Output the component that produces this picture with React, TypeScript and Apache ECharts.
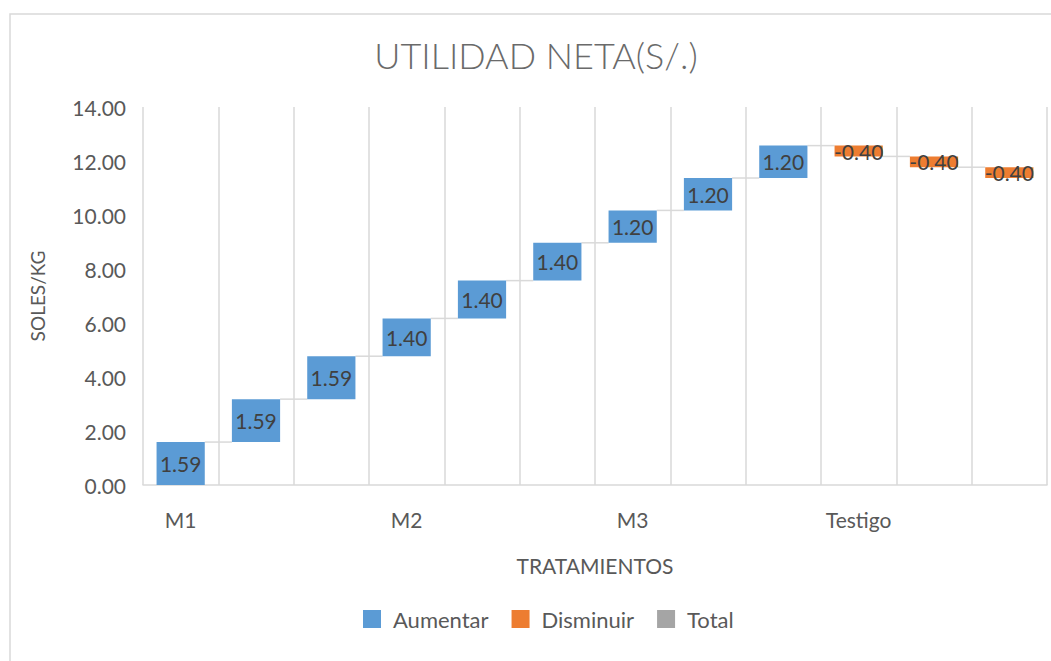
import React, { useEffect, useRef } from "react";
import * as echarts from "echarts";

const categories = ["M1", "", "", "M2", "", "", "M3", "", "", "Testigo", "", ""];
const changes = [1.59, 1.59, 1.59, 1.4, 1.4, 1.4, 1.2, 1.2, 1.2, -0.4, -0.4, -0.4];
const yTicks = { min: 0, max: 14, interval: 2 };
const seriesNames = ["Aumentar", "Disminuir", "Total"];

const FONT = "Lato";
const GRAY = "#595959";
const LINE = "#d9d9d9";

export default function App() {
  const ref = useRef<HTMLDivElement>(null);
  useEffect(() => {
    if (!ref.current) return;
    const chart = echarts.init(ref.current, null, { renderer: "svg" });

    const cum: number[] = [];
    let run = 0;
    changes.forEach((c) => {
      run = Math.round((run + c) * 100) / 100;
      cum.push(run);
    });
    const base = changes.map((c, i) => (c >= 0 ? cum[i] - c : cum[i]));
    const inc = changes.map((c) => (c >= 0 ? c : "-"));
    const dec = changes.map((c) => (c < 0 ? -c : "-"));
    const connectors = cum.slice(0, -1).map((v, i) => [i, v]);

    const labelStyle = {
      show: true,
      position: "inside",
      color: "#404040",
      fontFamily: FONT,
      fontSize: 21,
    };

    chart.setOption({
      animation: false,
      textStyle: { fontFamily: FONT },
      title: {
        text: "UTILIDAD NETA(S/.)",
        left: 531,
        top: 32,
        textAlign: "center",
        textStyle: { color: "#6a6a6a", fontFamily: FONT, fontSize: 36, fontWeight: 300 },
      },
      legend: {
        data: seriesNames,
        bottom: 26,
        left: 358,
        itemWidth: 18,
        itemHeight: 18,
        itemGap: 23,
        icon: "rect",
        textStyle: { color: GRAY, fontFamily: FONT, fontSize: 22, padding: [0, 0, 0, 7] },
      },
      graphic: [
        {
          type: "rect",
          shape: { x: 10, y: 14, width: 1100, height: 700 },
          style: { fill: "none", stroke: LINE, lineWidth: 1.5 },
          silent: true,
        },
      ],
      grid: { left: 143, right: 4, top: 107, bottom: 176 },
      xAxis: {
        type: "category",
        data: categories,
        name: "TRATAMIENTOS",
        nameLocation: "middle",
        nameGap: 70,
        nameTextStyle: { color: GRAY, fontFamily: FONT, fontSize: 21 },
        axisLine: { show: true, lineStyle: { color: LINE, width: 1.5 } },
        axisTick: { show: false },
        axisLabel: { interval: 0, color: GRAY, fontFamily: FONT, fontSize: 21, margin: 24 },
        splitLine: { show: true, interval: 0, lineStyle: { color: LINE, width: 1.5 } },
      },
      yAxis: {
        type: "value",
        min: yTicks.min,
        max: yTicks.max,
        interval: yTicks.interval,
        name: "SOLES/KG",
        nameLocation: "middle",
        nameGap: 96,
        nameTextStyle: { color: GRAY, fontFamily: FONT, fontSize: 19 },
        axisLine: { show: false },
        axisTick: { show: false },
        axisLabel: {
          color: GRAY,
          fontFamily: FONT,
          fontSize: 21,
          margin: 17,
          formatter: (v: number) => v.toFixed(2),
        },
        splitLine: { show: false },
      },
      series: [
        {
          name: "base",
          type: "bar",
          stack: "w",
          barWidth: "64%",
          data: base,
          itemStyle: { color: "transparent" },
          emphasis: { disabled: true },
          silent: true,
        },
        {
          name: "Aumentar",
          type: "bar",
          stack: "w",
          data: inc,
          itemStyle: { color: "#5B9BD5" },
          label: { ...labelStyle, formatter: (p: any) => Number(p.value).toFixed(2) },
        },
        {
          name: "Disminuir",
          type: "bar",
          stack: "w",
          data: dec,
          itemStyle: { color: "#ED7D31" },
          label: { ...labelStyle, formatter: (p: any) => (-Number(p.value)).toFixed(2) },
        },
        {
          name: "Total",
          type: "bar",
          stack: "w",
          data: [],
          itemStyle: { color: "#A5A5A5" },
        },
        {
          name: "connectors",
          type: "custom",
          silent: true,
          z: 1,
          data: connectors,
          renderItem: (params: any, api: any) => {
            const i = api.value(0);
            const v = api.value(1);
            const p = api.coord([i, v]);
            const bw = api.size([1, 0])[0];
            return {
              type: "line",
              shape: { x1: p[0] + bw * 0.32, y1: p[1], x2: p[0] + bw * 0.68, y2: p[1] },
              style: { stroke: LINE, lineWidth: 1.5 },
            };
          },
        },
      ],
    });
    return () => chart.dispose();
  }, []);

  return (
    <div
      ref={ref}
      style={{ position: "fixed", left: 0, top: 0, width: 1051, height: 661, background: "#fff" }}
    />
  );
}
